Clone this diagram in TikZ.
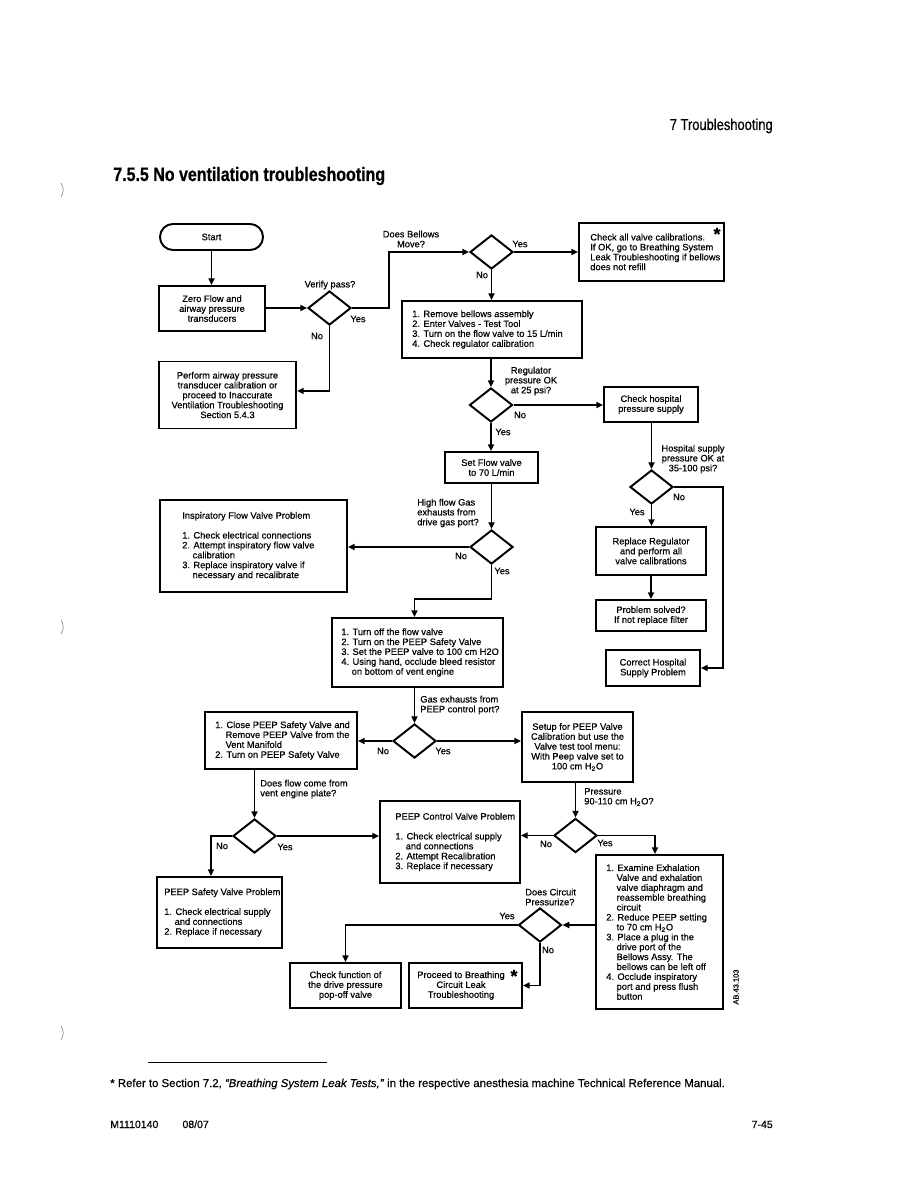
\documentclass[tikz,border=0pt]{standalone}
\usepackage{fontspec}
\setmainfont{Liberation Sans}[FakeBold=0.5]
\newfontfamily\condfont{Liberation Sans}[FakeStretch=0.82, FakeBold=0.6]
\usetikzlibrary{arrows.meta,shapes.geometric}
\newcommand{\hind}{\hphantom{1.\ }}
\newcommand{\Hto}{H\textsubscript{2}O}

\begin{document}
\begin{tikzpicture}[
			x=0.6667pt, y=-0.6667pt,
			every node/.style={font=\fontsize{6.2}{6.6}\selectfont, inner sep=0pt},
			sz/.style 2 args={minimum width=#1*0.6667pt, minimum height=#2*0.6667pt},
			box/.style={draw, line width=1.3pt, align=center},
			txt/.style={anchor=west, align=left},
			dec/.style={draw, diamond, line width=1.3pt, minimum width=28.7pt, minimum height=22.7pt},
			arr/.style={line width=1.3pt, -{Triangle[length=4.5pt,width=4pt]}},
			star/.style={font=\bfseries\fontsize{12}{12}\selectfont}
			]
			\useasboundingbox (0,0) rectangle (918,1188);
			
			% Page head
			\node[anchor=base east, font=\condfont\fontsize{10.5}{12}\selectfont] (chap) at (773,130) {7 Troubleshooting};
			\node[anchor=base west, font=\condfont\bfseries\fontsize{13}{15}\selectfont] (title) at (113,181) {7.5.5 No ventilation troubleshooting};
			
			% Binder marks
			\foreach \y in {190,627,1033}
			\draw[gray, line width=0.4pt] (61,\y-7) .. controls (64,\y-2) and (64,\y+2) .. (61,\y+7);
			
			% Start and transducers
			\node[box, rounded corners=8.6pt, sz={103}{26}] (start) at (211.5,237) {Start};
			\node[box, sz={106}{45}] (zero) at (212,308.5) {Zero Flow and\\airway pressure\\transducers};
			\node[dec] (verify) at (329.5,308) {};
			\node (verify-q) at (330,285) {Verify pass?};
			\node[box, sz={137}{67}] (perform) at (227.5,395) {Perform airway pressure\\transducer calibration or\\proceed to Inaccurate\\Ventilation Troubleshooting\\Section 5.4.3};
			
			% Bellows
			\node[dec] (bellows) at (491.5,252) {};
			\node[align=center] (bellows-q) at (411,239) {Does Bellows\\Move?};
			\node[box, sz={145}{58}] (valvecal) at (651.5,252) {};
			\node[txt] (valvecal-t) at ([xshift=8pt]valvecal.west) {Check all valve calibrations.\\If OK, go to Breathing System\\Leak Troubleshooting if bellows\\does not refill};
			\node[star] (valvecal-s) at (717,234) {*};
			\node[box, sz={180}{57}] (bellrem) at (492,329.5) {};
			\node[txt] (bellrem-t) at ([xshift=7.3pt]bellrem.west) {1. Remove bellows assembly\\2. Enter Valves - Test Tool\\3. Turn on the flow valve to 15 L/min\\4. Check regulator calibration};
			
			% Regulator
			\node[dec] (reg) at (491,405) {};
			\node[align=center] (reg-q) at (531,381) {Regulator\\pressure OK\\at 25 psi?};
			\node[box, sz={94}{35}] (hosp) at (651,404.5) {Check hospital\\pressure supply};
			\node[box, sz={93}{31}] (setflow) at (491.5,467.5) {Set Flow valve\\to 70 L/min};
			
			% Hospital supply
			\node[dec] (supply) at (651.5,487) {};
			\node[align=center] (supply-q) at (693,459) {Hospital supply\\pressure OK at\\35-100 psi?};
			\node[box, sz={110}{48}] (regrepl) at (651,551) {Replace Regulator\\and perform all\\valve calibrations};
			\node[box, sz={110}{31}] (solved) at (651,615.5) {Problem solved?\\If not replace filter};
			\node[box, sz={94}{36}] (hospfix) at (653,668) {Correct Hospital\\Supply Problem};
			
			% High flow
			\node[dec] (highflow) at (491.5,547) {};
			\node[txt] (highflow-q) at (417,513) {High flow Gas\\exhausts from\\drive gas port?};
			\node[box, sz={187}{92}] (insp) at (253.5,546) {};
			\node[txt] (insp-t) at ([xshift=15.3pt]insp.west) {Inspiratory Flow Valve Problem\\[6.6pt]1. Check electrical connections\\2. Attempt inspiratory flow valve\\\hind calibration\\3. Replace inspiratory valve if\\\hind necessary and recalibrate};
			\node[box, sz={171}{69}] (flowoff) at (417.5,652.5) {};
			\node[txt] (flowoff-t) at ([xshift=6.7pt]flowoff.west) {1. Turn off the flow valve\\2. Turn on the PEEP Safety Valve\\3. Set the PEEP valve to 100 cm H2O\\4. Using hand, occlude bleed resistor\\\hind on bottom of vent engine};
			
			% PEEP control port
			\node[dec] (peepport) at (414.5,741) {};
			\node[txt] (peepport-q) at (420,705) {Gas exhausts from\\PEEP control port?};
			\node[box, sz={152}{57}] (closesv) at (281,740.5) {};
			\node[txt] (closesv-t) at ([xshift=7.3pt]closesv.west) {1. Close PEEP Safety Valve and\\\hind Remove PEEP Valve from the\\\hind Vent Manifold\\2. Turn on PEEP Safety Valve};
			\node[box, sz={111}{70}] (setup) at (577.5,747) {Setup for PEEP Valve\\Calibration but use the\\Valve test tool menu:\\With Peep valve set to\\100 cm \Hto};
			
			% Vent engine plate
			\node[dec] (plate) at (254.5,836) {};
			\node[txt] (plate-q) at (260,789) {Does flow come from\\vent engine plate?};
			\node[box, sz={125}{71}] (safety) at (219.5,912.5) {};
			\node[txt] (safety-t) at ([xshift=5.3pt]safety.west) {PEEP Safety Valve Problem\\[6.6pt]1. Check electrical supply\\\hind and connections\\2. Replace if necessary};
			\node[box, sz={140}{82}] (control) at (450,842) {};
			\node[txt] (control-t) at ([xshift=10.7pt]control.west) {PEEP Control Valve Problem\\[6.6pt]1. Check electrical supply\\\hind and connections\\2. Attempt Recalibration\\3. Replace if necessary};
			
			% Pressure
			\node[dec] (press) at (575.5,835.5) {};
			\node[txt] (press-q) at (584,797) {Pressure\\90-110 cm \Hto?};
			\node[box, sz={127}{154}] (exam) at (659.5,932) {};
			\node[txt] (exam-t) at ([xshift=7.3pt]exam.west) {1. Examine Exhalation\\\hind Valve and exhalation\\\hind valve diaphragm and\\\hind reassemble breathing\\\hind circuit\\2. Reduce PEEP setting\\\hind to 70 cm \Hto\\3. Place a plug in the\\\hind drive port of the\\\hind Bellows Assy. The\\\hind bellows can be left off\\4. Occlude inspiratory\\\hind port and press flush\\\hind button};
			
			% Circuit
			\node[dec] (circuit) at (540,925) {};
			\node[txt] (circuit-q) at (525,897) {Does Circuit\\Pressurize?};
			\node[box, sz={111}{45}] (popoff) at (345.5,985.5) {Check function of\\the drive pressure\\pop-off valve};
			\node[box, sz={113}{45}] (leak) at (465.5,985.5) {};
			\node[align=center] (leak-t) at ([xshift=-3pt]leak.center) {Proceed to Breathing\\Circuit Leak\\Troubleshooting};
			\node[star] (leak-s) at (514,976) {*};
			
			% Yes / No
			\foreach \x/\y/\t [count=\i] in {358/319/Yes, 317/336/No, 520/244/Yes, 482/275/No,
				520/415/No, 503/432/Yes, 461/556/No, 502/571/Yes, 383/751/No, 443/751/Yes,
				222/846/No, 285/847/Yes, 546/844/No, 605/843/Yes, 507/916/Yes, 548/950/No,
				679/497/No, 637/512/Yes}
			\node (yn\i) at (\x,\y) {\t};
			
			% Connectors
			\draw[arr] (start.south) -- (start.south |- zero.north);
			\draw[arr] (zero.east |- verify) -- (verify.west);
			\draw[arr] (verify.east) -- ++(37,0) |- (bellows.west);
			\draw[arr] (verify.south) |- ([yshift=2.7pt]perform.east);
			\draw[arr] (bellows.east) -- (bellows.east -| valvecal.west);
			\draw[arr] (bellows.south) -- (bellows.south |- bellrem.north);
			\draw[arr] (reg.north |- bellrem.south) -- (reg.north);
			\draw[arr] (reg.east) -- (reg.east -| hosp.west);
			\draw[arr] (reg.south) -- (reg.south |- setflow.north);
			\draw[arr] (highflow.north |- setflow.south) -- (highflow.north);
			\draw[arr] (highflow.west) -- (highflow.west -| insp.east);
			\draw[arr] (highflow.south) -- ++(0,34) -| (peepport.north |- flowoff.north);
			\draw[arr] (peepport.north |- flowoff.south) -- (peepport.north);
			\draw[arr] (peepport.west) -- (peepport.west -| closesv.east);
			\draw[arr] (peepport.east) -- (peepport.east -| setup.west);
			\draw[arr] (plate.north |- closesv.south) -- (plate.north);
			\draw[arr] (plate.west) -| ([xshift=-5.7pt]safety.north);
			\draw[arr] (plate.east) -- (plate.east -| control.west);
			\draw[arr] (press.north |- setup.south) -- (press.north);
			\draw[arr] (press.west) -- (press.west -| control.east);
			\draw[arr] (press.east) -| ([xshift=-3pt]exam.north);
			\draw[arr] (circuit.east -| exam.west) -- (circuit.east);
			\draw[arr] (circuit.west) -| (popoff.north);
			\draw[arr] (circuit.south) |- (leak.east);
			\draw[arr] (supply.north |- hosp.south) -- (supply.north);
			\draw[arr] (supply.south) -- (supply.south |- regrepl.north);
			\draw[arr] (regrepl) -- (solved);
			\draw[arr] (supply.east) -- ++(49,0) |- (hospfix.east);
			
			% Footnote and foot
			\node[rotate=90, font=\fontsize{5}{6}\selectfont] (imgid) at (736,987) {AB.43.103};
			\draw[line width=0.5pt] (148,1062) -- (327,1062);
			\node[anchor=base west, font=\fontsize{7.6}{9}\selectfont] (fnote) at (110,1087) {* Refer to Section 7.2, \textit{“Breathing System Leak Tests,”} in the respective anesthesia machine Technical Reference Manual.};
			\node[anchor=base west, font=\fontsize{7}{8}\selectfont] (docno) at (110,1128) {M1110140\hspace{2.3em}08/07};
			\node[anchor=base east, font=\fontsize{7}{8}\selectfont] (pageno) at (773,1128) {7-45};
		\end{tikzpicture}
\end{document}
